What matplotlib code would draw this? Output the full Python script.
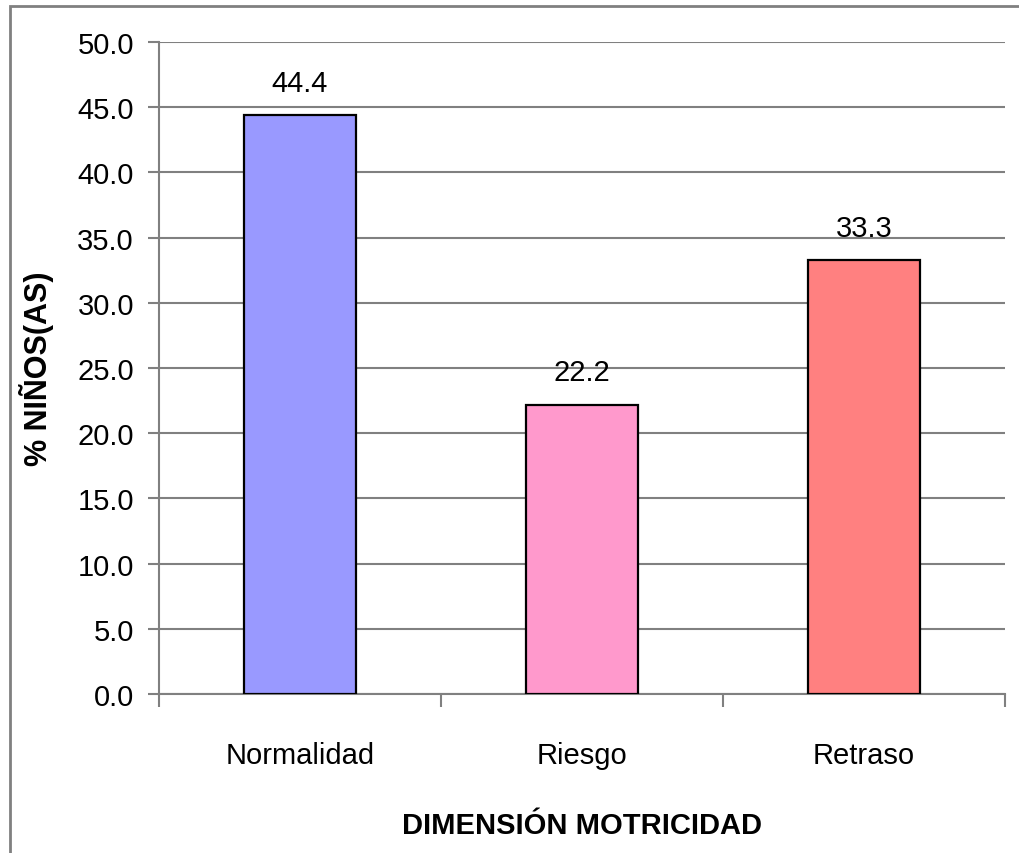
import matplotlib
matplotlib.use("Agg")
import matplotlib.pyplot as plt
from matplotlib.patches import Rectangle

# data
categories = ["Normalidad", "Riesgo", "Retraso"]
values = [44.4, 22.2, 33.3]
colors = ["#9999FF", "#FF99CC", "#FF8080"]
yticks = [0, 5, 10, 15, 20, 25, 30, 35, 40, 45, 50]

plt.rcParams['font.family'] = ['Liberation Sans', 'DejaVu Sans']

fig = plt.figure(figsize=(10.19, 8.54), dpi=100)
ax = fig.add_axes([159/1019, 1 - 695/854, (1005 - 159)/1019, (695 - 43)/854])

x = list(range(len(categories)))
ax.bar(x, values, width=0.4, color=colors, edgecolor="black", linewidth=1.6, zorder=3)

for xi, v in zip(x, values):
    ax.annotate(f"{v:.1f}", (xi, v), xytext=(0, 13), textcoords="offset points",
                ha="center", va="bottom", fontsize=21)

ax.set_xlim(-0.5, 2.5)
ax.set_ylim(0, 50)
ax.set_yticks(yticks)
ax.set_yticklabels([f"{t:.1f}" for t in yticks], fontsize=21)
ax.yaxis.grid(True, color="#808080", linewidth=1.5, zorder=0)
ax.set_axisbelow(True)

# category ticks between groups, labels centred under bars
ax.set_xticks([-0.5, 0.5, 1.5, 2.5])
ax.set_xticklabels([])
ax.set_xticks(x, minor=True)
ax.set_xticklabels(categories, minor=True, fontsize=21)
ax.tick_params(axis="x", which="minor", length=0, pad=34)
ax.tick_params(axis="x", which="major", length=9, width=1.5, color="#808080")
ax.tick_params(axis="y", length=8, width=1.5, color="#808080", pad=10)

for s in ["top", "right"]:
    ax.spines[s].set_visible(False)
for s in ["left", "bottom"]:
    ax.spines[s].set_color("#808080")
    ax.spines[s].set_linewidth(1.5)

ax.set_xlabel("DIMENSIÓN MOTRICIDAD", fontsize=21, fontweight="bold", labelpad=30)
ax.set_ylabel("% NIÑOS(AS)", fontsize=22, fontweight="bold", labelpad=17)

# outer chart border (cropped on right/bottom)
fig.patches.append(Rectangle((10/1019, -0.1), 1.2, 1 - 7/854 + 0.1, transform=fig.transFigure,
                             fill=False, edgecolor="#808080", linewidth=2))

fig.savefig("out.png", dpi=100)
